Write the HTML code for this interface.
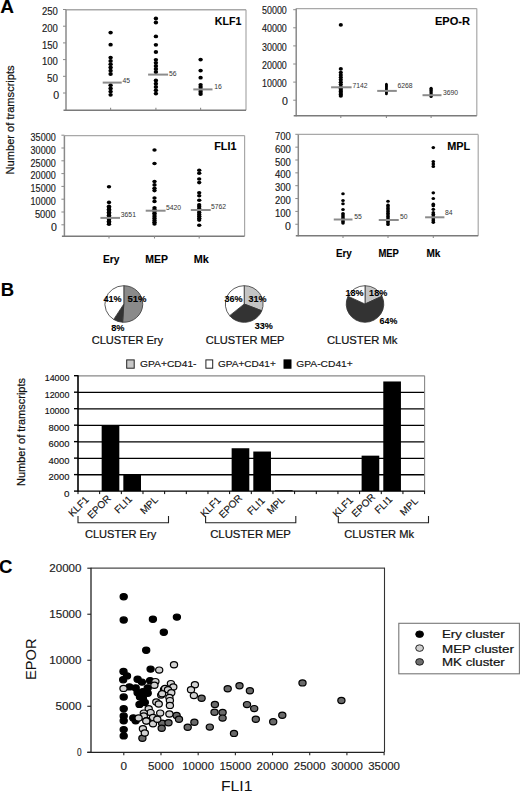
<!DOCTYPE html>
<html><head><meta charset="utf-8"><title>Figure</title>
<style>
html,body{margin:0;padding:0;background:#fff;}
svg{display:block;font-family:"Liberation Sans", sans-serif;}
text{stroke:currentColor;stroke-width:0.15px;}
text[font-weight=bold]{stroke-width:0.1px;}
text.h{stroke-width:0.22px;}
text.n{stroke-width:0;}
</style></head>
<body>
<svg width="520" height="791" viewBox="0 0 520 791">
<rect width="520" height="791" fill="#fff"/>
<text x="0.30" y="13.40" font-size="19" font-weight="bold">A</text>
<line x1="66.00" y1="9.75" x2="246.00" y2="9.75" stroke="#a8a8a8" stroke-width="1.35"/>
<line x1="246.00" y1="9.75" x2="246.00" y2="110.30" stroke="#a8a8a8" stroke-width="1.2"/>
<line x1="66.00" y1="9.75" x2="66.00" y2="110.90" stroke="#8a8a8a" stroke-width="1.5"/>
<line x1="63.50" y1="110.30" x2="246.00" y2="110.30" stroke="#7a7a7a" stroke-width="1.5"/>
<line x1="63.00" y1="9.50" x2="66.00" y2="9.50" stroke="#8a8a8a" stroke-width="1"/>
<line x1="63.00" y1="26.20" x2="66.00" y2="26.20" stroke="#8a8a8a" stroke-width="1"/>
<line x1="63.00" y1="42.90" x2="66.00" y2="42.90" stroke="#8a8a8a" stroke-width="1"/>
<line x1="63.00" y1="59.60" x2="66.00" y2="59.60" stroke="#8a8a8a" stroke-width="1"/>
<line x1="63.00" y1="76.30" x2="66.00" y2="76.30" stroke="#8a8a8a" stroke-width="1"/>
<line x1="63.00" y1="93.00" x2="66.00" y2="93.00" stroke="#8a8a8a" stroke-width="1"/>
<text x="57.90" y="15.10" font-size="10.5" text-anchor="end" textLength="15.90" lengthAdjust="spacingAndGlyphs" fill="#1a1a1a" color="#1a1a1a">250</text>
<text x="57.90" y="31.80" font-size="10.5" text-anchor="end" textLength="15.90" lengthAdjust="spacingAndGlyphs" fill="#1a1a1a" color="#1a1a1a">200</text>
<text x="57.90" y="48.50" font-size="10.5" text-anchor="end" textLength="15.90" lengthAdjust="spacingAndGlyphs" fill="#1a1a1a" color="#1a1a1a">150</text>
<text x="57.90" y="65.20" font-size="10.5" text-anchor="end" textLength="15.90" lengthAdjust="spacingAndGlyphs" fill="#1a1a1a" color="#1a1a1a">100</text>
<text x="57.90" y="81.90" font-size="10.5" text-anchor="end" textLength="10.90" lengthAdjust="spacingAndGlyphs" fill="#1a1a1a" color="#1a1a1a">50</text>
<text x="59.10" y="98.60" font-size="10.5" text-anchor="end" textLength="5.90" lengthAdjust="spacingAndGlyphs" fill="#1a1a1a" color="#1a1a1a">0</text>
<line x1="110.60" y1="107.70" x2="110.60" y2="110.30" stroke="#8a8a8a" stroke-width="1.1"/>
<line x1="155.90" y1="107.70" x2="155.90" y2="110.30" stroke="#8a8a8a" stroke-width="1.1"/>
<line x1="200.60" y1="107.70" x2="200.60" y2="110.30" stroke="#8a8a8a" stroke-width="1.1"/>
<text x="214.80" y="25.10" font-size="10.75" font-weight="bold" textLength="26.50" lengthAdjust="spacingAndGlyphs">KLF1</text>
<ellipse cx="110.60" cy="32.60" rx="2.2" ry="1.9" fill="#000"/>
<ellipse cx="110.60" cy="44.70" rx="2.2" ry="1.9" fill="#000"/>
<ellipse cx="110.60" cy="57.60" rx="2.2" ry="1.9" fill="#000"/>
<ellipse cx="110.60" cy="60.88" rx="2.2" ry="1.9" fill="#000"/>
<ellipse cx="110.60" cy="64.16" rx="2.2" ry="1.9" fill="#000"/>
<ellipse cx="110.60" cy="67.44" rx="2.2" ry="1.9" fill="#000"/>
<ellipse cx="110.60" cy="70.72" rx="2.2" ry="1.9" fill="#000"/>
<ellipse cx="110.60" cy="74.00" rx="2.2" ry="1.9" fill="#000"/>
<ellipse cx="110.60" cy="85.20" rx="2.2" ry="1.9" fill="#000"/>
<ellipse cx="110.60" cy="88.40" rx="2.2" ry="1.9" fill="#000"/>
<ellipse cx="110.60" cy="91.60" rx="2.2" ry="1.9" fill="#000"/>
<ellipse cx="110.60" cy="94.80" rx="2.2" ry="1.9" fill="#000"/>
<ellipse cx="155.90" cy="18.50" rx="2.2" ry="1.9" fill="#000"/>
<ellipse cx="155.90" cy="22.50" rx="2.2" ry="1.9" fill="#000"/>
<ellipse cx="155.90" cy="36.40" rx="2.2" ry="1.9" fill="#000"/>
<ellipse cx="155.90" cy="44.80" rx="2.2" ry="1.9" fill="#000"/>
<ellipse cx="155.90" cy="52.00" rx="2.2" ry="1.9" fill="#000"/>
<ellipse cx="155.90" cy="59.80" rx="2.2" ry="1.9" fill="#000"/>
<ellipse cx="155.90" cy="62.85" rx="2.2" ry="1.9" fill="#000"/>
<ellipse cx="155.90" cy="65.90" rx="2.2" ry="1.9" fill="#000"/>
<ellipse cx="155.90" cy="68.95" rx="2.2" ry="1.9" fill="#000"/>
<ellipse cx="155.90" cy="72.00" rx="2.2" ry="1.9" fill="#000"/>
<ellipse cx="155.90" cy="80.40" rx="2.2" ry="1.9" fill="#000"/>
<ellipse cx="155.90" cy="83.70" rx="2.2" ry="1.9" fill="#000"/>
<ellipse cx="155.90" cy="87.00" rx="2.2" ry="1.9" fill="#000"/>
<ellipse cx="155.90" cy="90.30" rx="2.2" ry="1.9" fill="#000"/>
<ellipse cx="155.90" cy="93.60" rx="2.2" ry="1.9" fill="#000"/>
<ellipse cx="200.60" cy="59.60" rx="2.2" ry="1.9" fill="#000"/>
<ellipse cx="200.60" cy="70.60" rx="2.2" ry="1.9" fill="#000"/>
<ellipse cx="200.60" cy="77.70" rx="2.2" ry="1.9" fill="#000"/>
<ellipse cx="200.60" cy="84.80" rx="2.2" ry="1.9" fill="#000"/>
<ellipse cx="200.60" cy="87.10" rx="2.2" ry="1.9" fill="#000"/>
<ellipse cx="200.60" cy="89.40" rx="2.2" ry="1.9" fill="#000"/>
<ellipse cx="200.60" cy="91.70" rx="2.2" ry="1.9" fill="#000"/>
<ellipse cx="200.60" cy="94.00" rx="2.2" ry="1.9" fill="#000"/>
<line x1="102.70" y1="82.60" x2="121.70" y2="82.60" stroke="#8c8c8c" stroke-width="2.0"/>
<line x1="148.10" y1="74.60" x2="168.10" y2="74.60" stroke="#8c8c8c" stroke-width="2.0"/>
<line x1="193.30" y1="89.40" x2="212.50" y2="89.40" stroke="#8c8c8c" stroke-width="2.0"/>
<text x="122.60" y="83.40" font-size="6.8" fill="#333" color="#333" class="n">45</text>
<text x="168.90" y="75.80" font-size="6.8" fill="#333" color="#333" class="n">56</text>
<text x="214.30" y="89.40" font-size="6.8" fill="#333" color="#333" class="n">16</text>
<line x1="296.20" y1="8.60" x2="476.80" y2="8.60" stroke="#a8a8a8" stroke-width="1.35"/>
<line x1="476.80" y1="8.60" x2="476.80" y2="115.70" stroke="#a8a8a8" stroke-width="1.2"/>
<line x1="296.20" y1="8.60" x2="296.20" y2="116.30" stroke="#8a8a8a" stroke-width="1.5"/>
<line x1="293.70" y1="115.70" x2="476.80" y2="115.70" stroke="#7a7a7a" stroke-width="1.5"/>
<line x1="293.20" y1="9.70" x2="296.20" y2="9.70" stroke="#8a8a8a" stroke-width="1"/>
<line x1="293.20" y1="27.80" x2="296.20" y2="27.80" stroke="#8a8a8a" stroke-width="1"/>
<line x1="293.20" y1="45.90" x2="296.20" y2="45.90" stroke="#8a8a8a" stroke-width="1"/>
<line x1="293.20" y1="64.00" x2="296.20" y2="64.00" stroke="#8a8a8a" stroke-width="1"/>
<line x1="293.20" y1="82.10" x2="296.20" y2="82.10" stroke="#8a8a8a" stroke-width="1"/>
<line x1="293.20" y1="100.20" x2="296.20" y2="100.20" stroke="#8a8a8a" stroke-width="1"/>
<text x="286.80" y="14.30" font-size="10.5" text-anchor="end" textLength="24.80" lengthAdjust="spacingAndGlyphs" fill="#1a1a1a" color="#1a1a1a">50000</text>
<text x="286.80" y="32.40" font-size="10.5" text-anchor="end" textLength="24.80" lengthAdjust="spacingAndGlyphs" fill="#1a1a1a" color="#1a1a1a">40000</text>
<text x="286.80" y="50.50" font-size="10.5" text-anchor="end" textLength="24.80" lengthAdjust="spacingAndGlyphs" fill="#1a1a1a" color="#1a1a1a">30000</text>
<text x="286.80" y="68.60" font-size="10.5" text-anchor="end" textLength="24.80" lengthAdjust="spacingAndGlyphs" fill="#1a1a1a" color="#1a1a1a">20000</text>
<text x="286.80" y="86.70" font-size="10.5" text-anchor="end" textLength="24.80" lengthAdjust="spacingAndGlyphs" fill="#1a1a1a" color="#1a1a1a">10000</text>
<text x="288.00" y="104.80" font-size="10.5" text-anchor="end" textLength="5.90" lengthAdjust="spacingAndGlyphs" fill="#1a1a1a" color="#1a1a1a">0</text>
<line x1="340.80" y1="115.70" x2="340.80" y2="117.90" stroke="#8a8a8a" stroke-width="1.1"/>
<line x1="386.40" y1="115.70" x2="386.40" y2="117.90" stroke="#8a8a8a" stroke-width="1.1"/>
<line x1="431.10" y1="115.70" x2="431.10" y2="117.90" stroke="#8a8a8a" stroke-width="1.1"/>
<text x="434.90" y="24.50" font-size="10.75" font-weight="bold" textLength="35.00" lengthAdjust="spacingAndGlyphs">EPO-R</text>
<ellipse cx="340.80" cy="24.90" rx="2.1" ry="1.8" fill="#000"/>
<ellipse cx="340.80" cy="68.90" rx="2.1" ry="1.8" fill="#000"/>
<ellipse cx="340.80" cy="72.60" rx="2.1" ry="1.8" fill="#000"/>
<ellipse cx="340.80" cy="75.00" rx="2.1" ry="1.8" fill="#000"/>
<ellipse cx="340.80" cy="77.40" rx="2.1" ry="1.8" fill="#000"/>
<ellipse cx="340.80" cy="79.80" rx="2.1" ry="1.8" fill="#000"/>
<ellipse cx="340.80" cy="82.20" rx="2.1" ry="1.8" fill="#000"/>
<ellipse cx="340.80" cy="84.60" rx="2.1" ry="1.8" fill="#000"/>
<ellipse cx="340.80" cy="87.00" rx="2.1" ry="1.8" fill="#000"/>
<ellipse cx="340.80" cy="88.50" rx="2.1" ry="1.8" fill="#000"/>
<ellipse cx="340.80" cy="90.00" rx="2.1" ry="1.8" fill="#000"/>
<ellipse cx="340.80" cy="91.50" rx="2.1" ry="1.8" fill="#000"/>
<ellipse cx="340.80" cy="93.00" rx="2.1" ry="1.8" fill="#000"/>
<ellipse cx="340.80" cy="94.50" rx="2.1" ry="1.8" fill="#000"/>
<ellipse cx="340.80" cy="96.00" rx="2.1" ry="1.8" fill="#000"/>
<ellipse cx="386.40" cy="84.20" rx="1.4" ry="1.5" fill="#000"/>
<ellipse cx="386.40" cy="85.40" rx="1.4" ry="1.5" fill="#000"/>
<ellipse cx="386.40" cy="86.60" rx="1.4" ry="1.5" fill="#000"/>
<ellipse cx="386.40" cy="87.80" rx="1.4" ry="1.5" fill="#000"/>
<ellipse cx="386.40" cy="89.00" rx="1.4" ry="1.5" fill="#000"/>
<ellipse cx="386.40" cy="90.20" rx="1.4" ry="1.5" fill="#000"/>
<ellipse cx="386.40" cy="91.40" rx="1.4" ry="1.5" fill="#000"/>
<ellipse cx="386.40" cy="92.60" rx="1.4" ry="1.5" fill="#000"/>
<ellipse cx="386.40" cy="93.80" rx="1.4" ry="1.5" fill="#000"/>
<ellipse cx="431.10" cy="88.20" rx="1.6" ry="1.5" fill="#000"/>
<ellipse cx="431.10" cy="89.40" rx="1.6" ry="1.5" fill="#000"/>
<ellipse cx="431.10" cy="90.60" rx="1.6" ry="1.5" fill="#000"/>
<ellipse cx="431.10" cy="91.80" rx="1.6" ry="1.5" fill="#000"/>
<ellipse cx="431.10" cy="93.00" rx="1.6" ry="1.5" fill="#000"/>
<ellipse cx="431.10" cy="94.20" rx="1.6" ry="1.5" fill="#000"/>
<ellipse cx="431.10" cy="95.40" rx="1.6" ry="1.5" fill="#000"/>
<ellipse cx="431.10" cy="96.60" rx="1.6" ry="1.5" fill="#000"/>
<line x1="331.10" y1="87.30" x2="351.60" y2="87.30" stroke="#8c8c8c" stroke-width="2.0"/>
<line x1="377.20" y1="90.90" x2="396.80" y2="90.90" stroke="#8c8c8c" stroke-width="2.0"/>
<line x1="422.50" y1="95.20" x2="441.50" y2="95.20" stroke="#8c8c8c" stroke-width="2.0"/>
<text x="352.40" y="87.70" font-size="6.8" fill="#333" color="#333" class="n">7142</text>
<text x="397.40" y="88.40" font-size="6.8" fill="#333" color="#333" class="n">6268</text>
<text x="443.00" y="95.30" font-size="6.8" fill="#333" color="#333" class="n">3690</text>
<line x1="64.40" y1="135.60" x2="244.60" y2="135.60" stroke="#a8a8a8" stroke-width="1.35"/>
<line x1="244.60" y1="135.60" x2="244.60" y2="236.30" stroke="#a8a8a8" stroke-width="1.2"/>
<line x1="64.40" y1="135.60" x2="64.40" y2="236.90" stroke="#8a8a8a" stroke-width="1.5"/>
<line x1="61.90" y1="236.30" x2="244.60" y2="236.30" stroke="#7a7a7a" stroke-width="1.5"/>
<line x1="61.40" y1="135.20" x2="64.40" y2="135.20" stroke="#8a8a8a" stroke-width="1"/>
<line x1="61.40" y1="148.00" x2="64.40" y2="148.00" stroke="#8a8a8a" stroke-width="1"/>
<line x1="61.40" y1="160.80" x2="64.40" y2="160.80" stroke="#8a8a8a" stroke-width="1"/>
<line x1="61.40" y1="173.60" x2="64.40" y2="173.60" stroke="#8a8a8a" stroke-width="1"/>
<line x1="61.40" y1="186.40" x2="64.40" y2="186.40" stroke="#8a8a8a" stroke-width="1"/>
<line x1="61.40" y1="199.20" x2="64.40" y2="199.20" stroke="#8a8a8a" stroke-width="1"/>
<line x1="61.40" y1="212.00" x2="64.40" y2="212.00" stroke="#8a8a8a" stroke-width="1"/>
<line x1="61.40" y1="224.80" x2="64.40" y2="224.80" stroke="#8a8a8a" stroke-width="1"/>
<text x="55.70" y="141.00" font-size="10.5" text-anchor="end" textLength="25.10" lengthAdjust="spacingAndGlyphs" fill="#1a1a1a" color="#1a1a1a">35000</text>
<text x="55.70" y="153.80" font-size="10.5" text-anchor="end" textLength="25.10" lengthAdjust="spacingAndGlyphs" fill="#1a1a1a" color="#1a1a1a">30000</text>
<text x="55.70" y="166.60" font-size="10.5" text-anchor="end" textLength="25.10" lengthAdjust="spacingAndGlyphs" fill="#1a1a1a" color="#1a1a1a">25000</text>
<text x="55.70" y="179.40" font-size="10.5" text-anchor="end" textLength="25.10" lengthAdjust="spacingAndGlyphs" fill="#1a1a1a" color="#1a1a1a">20000</text>
<text x="55.70" y="192.20" font-size="10.5" text-anchor="end" textLength="25.10" lengthAdjust="spacingAndGlyphs" fill="#1a1a1a" color="#1a1a1a">15000</text>
<text x="55.70" y="205.00" font-size="10.5" text-anchor="end" textLength="25.10" lengthAdjust="spacingAndGlyphs" fill="#1a1a1a" color="#1a1a1a">10000</text>
<text x="55.70" y="217.80" font-size="10.5" text-anchor="end" textLength="20.80" lengthAdjust="spacingAndGlyphs" fill="#1a1a1a" color="#1a1a1a">5000</text>
<text x="56.90" y="230.60" font-size="10.5" text-anchor="end" textLength="5.90" lengthAdjust="spacingAndGlyphs" fill="#1a1a1a" color="#1a1a1a">0</text>
<line x1="109.00" y1="236.30" x2="109.00" y2="238.50" stroke="#8a8a8a" stroke-width="1.1"/>
<line x1="154.50" y1="236.30" x2="154.50" y2="238.50" stroke="#8a8a8a" stroke-width="1.1"/>
<line x1="199.20" y1="236.30" x2="199.20" y2="238.50" stroke="#8a8a8a" stroke-width="1.1"/>
<text x="214.30" y="150.30" font-size="10.34" font-weight="bold" textLength="22.10" lengthAdjust="spacingAndGlyphs">FLI1</text>
<ellipse cx="109.00" cy="186.80" rx="2.2" ry="1.8" fill="#000"/>
<ellipse cx="109.00" cy="202.40" rx="2.2" ry="1.8" fill="#000"/>
<ellipse cx="109.00" cy="206.20" rx="2.2" ry="1.8" fill="#000"/>
<ellipse cx="109.00" cy="207.70" rx="2.2" ry="1.8" fill="#000"/>
<ellipse cx="109.00" cy="209.20" rx="2.2" ry="1.8" fill="#000"/>
<ellipse cx="109.00" cy="210.70" rx="2.2" ry="1.8" fill="#000"/>
<ellipse cx="109.00" cy="212.20" rx="2.2" ry="1.8" fill="#000"/>
<ellipse cx="109.00" cy="213.70" rx="2.2" ry="1.8" fill="#000"/>
<ellipse cx="109.00" cy="215.20" rx="2.2" ry="1.8" fill="#000"/>
<ellipse cx="109.00" cy="216.70" rx="2.2" ry="1.8" fill="#000"/>
<ellipse cx="109.00" cy="218.20" rx="2.2" ry="1.8" fill="#000"/>
<ellipse cx="109.00" cy="219.70" rx="2.2" ry="1.8" fill="#000"/>
<ellipse cx="109.00" cy="221.20" rx="2.2" ry="1.8" fill="#000"/>
<ellipse cx="109.00" cy="222.70" rx="2.2" ry="1.8" fill="#000"/>
<ellipse cx="109.00" cy="224.20" rx="2.2" ry="1.8" fill="#000"/>
<ellipse cx="154.50" cy="150.00" rx="2.2" ry="1.8" fill="#000"/>
<ellipse cx="154.50" cy="163.50" rx="2.2" ry="1.8" fill="#000"/>
<ellipse cx="154.50" cy="181.50" rx="2.2" ry="1.8" fill="#000"/>
<ellipse cx="154.50" cy="184.90" rx="2.2" ry="1.8" fill="#000"/>
<ellipse cx="154.50" cy="188.30" rx="2.2" ry="1.8" fill="#000"/>
<ellipse cx="154.50" cy="190.60" rx="2.2" ry="1.8" fill="#000"/>
<ellipse cx="154.50" cy="198.00" rx="2.2" ry="1.8" fill="#000"/>
<ellipse cx="154.50" cy="201.40" rx="2.2" ry="1.8" fill="#000"/>
<ellipse cx="154.50" cy="207.80" rx="2.2" ry="1.8" fill="#000"/>
<ellipse cx="154.50" cy="209.60" rx="2.2" ry="1.8" fill="#000"/>
<ellipse cx="154.50" cy="211.40" rx="2.2" ry="1.8" fill="#000"/>
<ellipse cx="154.50" cy="213.20" rx="2.2" ry="1.8" fill="#000"/>
<ellipse cx="154.50" cy="215.00" rx="2.2" ry="1.8" fill="#000"/>
<ellipse cx="154.50" cy="216.80" rx="2.2" ry="1.8" fill="#000"/>
<ellipse cx="154.50" cy="218.60" rx="2.2" ry="1.8" fill="#000"/>
<ellipse cx="154.50" cy="220.40" rx="2.2" ry="1.8" fill="#000"/>
<ellipse cx="154.50" cy="222.20" rx="2.2" ry="1.8" fill="#000"/>
<ellipse cx="154.50" cy="224.00" rx="2.2" ry="1.8" fill="#000"/>
<ellipse cx="199.20" cy="170.20" rx="2.2" ry="1.8" fill="#000"/>
<ellipse cx="199.20" cy="173.30" rx="2.2" ry="1.8" fill="#000"/>
<ellipse cx="199.20" cy="179.00" rx="2.2" ry="1.8" fill="#000"/>
<ellipse cx="199.20" cy="182.60" rx="2.2" ry="1.8" fill="#000"/>
<ellipse cx="199.20" cy="192.70" rx="2.2" ry="1.8" fill="#000"/>
<ellipse cx="199.20" cy="195.80" rx="2.2" ry="1.8" fill="#000"/>
<ellipse cx="199.20" cy="200.30" rx="2.2" ry="1.8" fill="#000"/>
<ellipse cx="199.20" cy="204.90" rx="2.2" ry="1.8" fill="#000"/>
<ellipse cx="199.20" cy="206.80" rx="2.2" ry="1.8" fill="#000"/>
<ellipse cx="199.20" cy="208.70" rx="2.2" ry="1.8" fill="#000"/>
<ellipse cx="199.20" cy="210.60" rx="2.2" ry="1.8" fill="#000"/>
<ellipse cx="199.20" cy="212.50" rx="2.2" ry="1.8" fill="#000"/>
<ellipse cx="199.20" cy="214.40" rx="2.2" ry="1.8" fill="#000"/>
<ellipse cx="199.20" cy="216.30" rx="2.2" ry="1.8" fill="#000"/>
<ellipse cx="199.20" cy="218.20" rx="2.2" ry="1.8" fill="#000"/>
<ellipse cx="199.20" cy="220.10" rx="2.2" ry="1.8" fill="#000"/>
<ellipse cx="199.20" cy="225.30" rx="2.2" ry="1.8" fill="#000"/>
<line x1="100.40" y1="217.90" x2="120.00" y2="217.90" stroke="#8c8c8c" stroke-width="2.0"/>
<line x1="145.70" y1="210.70" x2="165.60" y2="210.70" stroke="#8c8c8c" stroke-width="2.0"/>
<line x1="190.80" y1="210.00" x2="210.70" y2="210.00" stroke="#8c8c8c" stroke-width="2.0"/>
<text x="120.80" y="216.60" font-size="6.8" fill="#333" color="#333" class="n">3651</text>
<text x="166.00" y="209.90" font-size="6.8" fill="#333" color="#333" class="n">5420</text>
<text x="211.00" y="208.90" font-size="6.8" fill="#333" color="#333" class="n">5762</text>
<line x1="298.30" y1="134.40" x2="478.20" y2="134.40" stroke="#a8a8a8" stroke-width="1.35"/>
<line x1="478.20" y1="134.40" x2="478.20" y2="235.70" stroke="#a8a8a8" stroke-width="1.2"/>
<line x1="298.30" y1="134.40" x2="298.30" y2="236.30" stroke="#8a8a8a" stroke-width="1.5"/>
<line x1="295.80" y1="235.70" x2="478.20" y2="235.70" stroke="#7a7a7a" stroke-width="1.5"/>
<line x1="295.30" y1="134.30" x2="298.30" y2="134.30" stroke="#8a8a8a" stroke-width="1"/>
<line x1="295.30" y1="147.15" x2="298.30" y2="147.15" stroke="#8a8a8a" stroke-width="1"/>
<line x1="295.30" y1="160.00" x2="298.30" y2="160.00" stroke="#8a8a8a" stroke-width="1"/>
<line x1="295.30" y1="172.85" x2="298.30" y2="172.85" stroke="#8a8a8a" stroke-width="1"/>
<line x1="295.30" y1="185.70" x2="298.30" y2="185.70" stroke="#8a8a8a" stroke-width="1"/>
<line x1="295.30" y1="198.55" x2="298.30" y2="198.55" stroke="#8a8a8a" stroke-width="1"/>
<line x1="295.30" y1="211.40" x2="298.30" y2="211.40" stroke="#8a8a8a" stroke-width="1"/>
<line x1="295.30" y1="224.25" x2="298.30" y2="224.25" stroke="#8a8a8a" stroke-width="1"/>
<text x="290.90" y="139.90" font-size="10.5" text-anchor="end" textLength="15.90" lengthAdjust="spacingAndGlyphs" fill="#1a1a1a" color="#1a1a1a">700</text>
<text x="290.90" y="152.75" font-size="10.5" text-anchor="end" textLength="15.90" lengthAdjust="spacingAndGlyphs" fill="#1a1a1a" color="#1a1a1a">600</text>
<text x="290.90" y="165.60" font-size="10.5" text-anchor="end" textLength="15.90" lengthAdjust="spacingAndGlyphs" fill="#1a1a1a" color="#1a1a1a">500</text>
<text x="290.90" y="178.45" font-size="10.5" text-anchor="end" textLength="15.90" lengthAdjust="spacingAndGlyphs" fill="#1a1a1a" color="#1a1a1a">400</text>
<text x="290.90" y="191.30" font-size="10.5" text-anchor="end" textLength="15.90" lengthAdjust="spacingAndGlyphs" fill="#1a1a1a" color="#1a1a1a">300</text>
<text x="290.90" y="204.15" font-size="10.5" text-anchor="end" textLength="15.90" lengthAdjust="spacingAndGlyphs" fill="#1a1a1a" color="#1a1a1a">200</text>
<text x="290.90" y="217.00" font-size="10.5" text-anchor="end" textLength="15.90" lengthAdjust="spacingAndGlyphs" fill="#1a1a1a" color="#1a1a1a">100</text>
<text x="290.90" y="229.85" font-size="10.5" text-anchor="end" textLength="5.90" lengthAdjust="spacingAndGlyphs" fill="#1a1a1a" color="#1a1a1a">0</text>
<line x1="343.00" y1="235.70" x2="343.00" y2="237.90" stroke="#8a8a8a" stroke-width="1.1"/>
<line x1="388.00" y1="235.70" x2="388.00" y2="237.90" stroke="#8a8a8a" stroke-width="1.1"/>
<line x1="433.30" y1="235.70" x2="433.30" y2="237.90" stroke="#8a8a8a" stroke-width="1.1"/>
<text x="447.20" y="149.80" font-size="10.75" font-weight="bold" textLength="23.00" lengthAdjust="spacingAndGlyphs">MPL</text>
<ellipse cx="343.00" cy="193.75" rx="1.8" ry="1.6" fill="#000"/>
<ellipse cx="343.00" cy="200.50" rx="1.8" ry="1.6" fill="#000"/>
<ellipse cx="343.00" cy="203.75" rx="1.8" ry="1.6" fill="#000"/>
<ellipse cx="343.00" cy="209.50" rx="1.8" ry="1.6" fill="#000"/>
<ellipse cx="343.00" cy="213.50" rx="1.8" ry="1.6" fill="#000"/>
<ellipse cx="343.00" cy="215.10" rx="1.8" ry="1.6" fill="#000"/>
<ellipse cx="343.00" cy="216.70" rx="1.8" ry="1.6" fill="#000"/>
<ellipse cx="343.00" cy="218.30" rx="1.8" ry="1.6" fill="#000"/>
<ellipse cx="343.00" cy="219.90" rx="1.8" ry="1.6" fill="#000"/>
<ellipse cx="343.00" cy="221.50" rx="1.8" ry="1.6" fill="#000"/>
<ellipse cx="343.00" cy="223.10" rx="1.8" ry="1.6" fill="#000"/>
<ellipse cx="388.00" cy="201.25" rx="1.8" ry="1.6" fill="#000"/>
<ellipse cx="388.00" cy="205.20" rx="1.8" ry="1.6" fill="#000"/>
<ellipse cx="388.00" cy="206.80" rx="1.8" ry="1.6" fill="#000"/>
<ellipse cx="388.00" cy="208.40" rx="1.8" ry="1.6" fill="#000"/>
<ellipse cx="388.00" cy="210.00" rx="1.8" ry="1.6" fill="#000"/>
<ellipse cx="388.00" cy="211.60" rx="1.8" ry="1.6" fill="#000"/>
<ellipse cx="388.00" cy="213.20" rx="1.8" ry="1.6" fill="#000"/>
<ellipse cx="388.00" cy="214.80" rx="1.8" ry="1.6" fill="#000"/>
<ellipse cx="388.00" cy="216.40" rx="1.8" ry="1.6" fill="#000"/>
<ellipse cx="388.00" cy="218.00" rx="1.8" ry="1.6" fill="#000"/>
<ellipse cx="388.00" cy="219.60" rx="1.8" ry="1.6" fill="#000"/>
<ellipse cx="388.00" cy="221.20" rx="1.8" ry="1.6" fill="#000"/>
<ellipse cx="388.00" cy="222.80" rx="1.8" ry="1.6" fill="#000"/>
<ellipse cx="388.00" cy="224.40" rx="1.8" ry="1.6" fill="#000"/>
<ellipse cx="433.30" cy="147.60" rx="1.8" ry="1.6" fill="#000"/>
<ellipse cx="433.30" cy="161.60" rx="1.8" ry="1.6" fill="#000"/>
<ellipse cx="433.30" cy="163.90" rx="1.8" ry="1.6" fill="#000"/>
<ellipse cx="433.30" cy="166.40" rx="1.8" ry="1.6" fill="#000"/>
<ellipse cx="433.30" cy="192.80" rx="1.8" ry="1.6" fill="#000"/>
<ellipse cx="433.30" cy="198.50" rx="1.8" ry="1.6" fill="#000"/>
<ellipse cx="433.30" cy="204.20" rx="1.8" ry="1.6" fill="#000"/>
<ellipse cx="433.30" cy="205.70" rx="1.8" ry="1.6" fill="#000"/>
<ellipse cx="433.30" cy="209.30" rx="1.8" ry="1.6" fill="#000"/>
<ellipse cx="433.30" cy="212.70" rx="1.8" ry="1.6" fill="#000"/>
<ellipse cx="433.30" cy="214.30" rx="1.8" ry="1.6" fill="#000"/>
<ellipse cx="433.30" cy="215.90" rx="1.8" ry="1.6" fill="#000"/>
<ellipse cx="433.30" cy="217.50" rx="1.8" ry="1.6" fill="#000"/>
<ellipse cx="433.30" cy="219.10" rx="1.8" ry="1.6" fill="#000"/>
<ellipse cx="433.30" cy="220.70" rx="1.8" ry="1.6" fill="#000"/>
<ellipse cx="433.30" cy="222.30" rx="1.8" ry="1.6" fill="#000"/>
<line x1="333.75" y1="219.50" x2="352.50" y2="219.50" stroke="#8c8c8c" stroke-width="2.0"/>
<line x1="378.75" y1="220.00" x2="398.75" y2="220.00" stroke="#8c8c8c" stroke-width="2.0"/>
<line x1="425.10" y1="217.30" x2="444.40" y2="217.30" stroke="#8c8c8c" stroke-width="2.0"/>
<text x="354.30" y="219.15" font-size="6.8" fill="#333" color="#333" class="n">55</text>
<text x="400.00" y="219.15" font-size="6.8" fill="#333" color="#333" class="n">50</text>
<text x="445.00" y="214.90" font-size="6.8" fill="#333" color="#333" class="n">84</text>
<text x="13.80" y="119.90" font-size="11" text-anchor="middle" textLength="109.00" lengthAdjust="spacingAndGlyphs" fill="#111" color="#111" transform="rotate(-90 13.80 119.90)" class="h">Number of tramscripts</text>
<text x="102.90" y="262.70" font-size="10" font-weight="bold" textLength="16.50" lengthAdjust="spacingAndGlyphs">Ery</text>
<text x="145.20" y="262.70" font-size="10" font-weight="bold" textLength="22.70" lengthAdjust="spacingAndGlyphs">MEP</text>
<text x="193.80" y="262.70" font-size="10" font-weight="bold" textLength="15.10" lengthAdjust="spacingAndGlyphs">Mk</text>
<text x="335.90" y="257.40" font-size="10" font-weight="bold" textLength="16.00" lengthAdjust="spacingAndGlyphs">Ery</text>
<text x="378.40" y="257.40" font-size="10" font-weight="bold" textLength="20.50" lengthAdjust="spacingAndGlyphs">MEP</text>
<text x="426.40" y="257.40" font-size="10" font-weight="bold" textLength="14.00" lengthAdjust="spacingAndGlyphs">Mk</text>
<text x="0.80" y="296.00" font-size="18.5" font-weight="bold">B</text>
<path d="M123.80,304.00 L123.80,285.70 A18.9,18.3 0 1 1 122.61,322.26 Z" fill="#8a8a8a" stroke="#333" stroke-width="0.8" stroke-linejoin="round"/>
<path d="M123.80,304.00 L122.61,322.26 A18.9,18.3 0 0 1 113.67,319.45 Z" fill="#333333" stroke="#333" stroke-width="0.8" stroke-linejoin="round"/>
<path d="M123.80,304.00 L113.67,319.45 A18.9,18.3 0 0 1 123.80,285.70 Z" fill="#ffffff" stroke="#333" stroke-width="0.8" stroke-linejoin="round"/>
<path d="M244.20,304.00 L244.20,285.70 A18.9,18.3 0 0 1 261.77,310.74 Z" fill="#c4c4c4" stroke="#333" stroke-width="0.8" stroke-linejoin="round"/>
<path d="M244.20,304.00 L261.77,310.74 A18.9,18.3 0 0 1 229.64,315.66 Z" fill="#333333" stroke="#333" stroke-width="0.8" stroke-linejoin="round"/>
<path d="M244.20,304.00 L229.64,315.66 A18.9,18.3 0 0 1 244.20,285.70 Z" fill="#ffffff" stroke="#333" stroke-width="0.8" stroke-linejoin="round"/>
<path d="M365.00,304.00 L365.00,285.70 A18.8,18.3 0 0 1 382.01,296.21 Z" fill="#c4c4c4" stroke="#333" stroke-width="0.8" stroke-linejoin="round"/>
<path d="M365.00,304.00 L382.01,296.21 A18.8,18.3 0 1 1 347.99,296.21 Z" fill="#333333" stroke="#333" stroke-width="0.8" stroke-linejoin="round"/>
<path d="M365.00,304.00 L347.99,296.21 A18.8,18.3 0 0 1 365.00,285.70 Z" fill="#ffffff" stroke="#333" stroke-width="0.8" stroke-linejoin="round"/>
<text x="103.50" y="302.10" font-size="9.3" font-weight="bold" textLength="18.10" lengthAdjust="spacingAndGlyphs">41%</text>
<text x="127.50" y="302.10" font-size="9.3" font-weight="bold" textLength="19.10" lengthAdjust="spacingAndGlyphs">51%</text>
<text x="111.20" y="331.00" font-size="9.3" font-weight="bold" textLength="13.30" lengthAdjust="spacingAndGlyphs">8%</text>
<text x="224.50" y="302.00" font-size="9.3" font-weight="bold" textLength="18.10" lengthAdjust="spacingAndGlyphs">36%</text>
<text x="248.50" y="302.00" font-size="9.3" font-weight="bold" textLength="18.10" lengthAdjust="spacingAndGlyphs">31%</text>
<text x="254.70" y="328.50" font-size="9.3" font-weight="bold" textLength="18.10" lengthAdjust="spacingAndGlyphs">33%</text>
<text x="345.50" y="295.80" font-size="9.3" font-weight="bold" textLength="18.10" lengthAdjust="spacingAndGlyphs">18%</text>
<text x="369.10" y="295.80" font-size="9.3" font-weight="bold" textLength="18.20" lengthAdjust="spacingAndGlyphs">18%</text>
<text x="379.50" y="323.70" font-size="9.3" font-weight="bold" textLength="17.80" lengthAdjust="spacingAndGlyphs">64%</text>
<text x="91.70" y="343.50" font-size="11.3" textLength="71.40" lengthAdjust="spacingAndGlyphs" fill="#111" color="#111" class="h">CLUSTER Ery</text>
<text x="205.70" y="343.50" font-size="11.3" textLength="78.80" lengthAdjust="spacingAndGlyphs" fill="#111" color="#111" class="h">CLUSTER MEP</text>
<text x="326.90" y="343.50" font-size="11.3" textLength="70.50" lengthAdjust="spacingAndGlyphs" fill="#111" color="#111" class="h">CLUSTER Mk</text>
<rect x="126.70" y="359.90" width="7.50" height="8.30" fill="#c8c8c8" stroke="#222" stroke-width="1"/>
<rect x="205.90" y="359.90" width="6.80" height="8.30" fill="#fff" stroke="#222" stroke-width="1"/>
<rect x="284.00" y="359.90" width="7.00" height="8.30" fill="#000" stroke="#000" stroke-width="1"/>
<text x="140.10" y="367.10" font-size="9.8" textLength="56.40" lengthAdjust="spacingAndGlyphs" fill="#111" color="#111">GPA+CD41-</text>
<text x="218.05" y="367.10" font-size="9.8" textLength="57.75" lengthAdjust="spacingAndGlyphs" fill="#111" color="#111">GPA+CD41+</text>
<text x="296.30" y="367.10" font-size="9.8" textLength="56.50" lengthAdjust="spacingAndGlyphs" fill="#111" color="#111">GPA-CD41+</text>
<line x1="78.00" y1="474.76" x2="424.60" y2="474.76" stroke="#000" stroke-width="1.3"/>
<line x1="78.00" y1="458.28" x2="424.60" y2="458.28" stroke="#000" stroke-width="1.3"/>
<line x1="78.00" y1="441.79" x2="424.60" y2="441.79" stroke="#000" stroke-width="1.3"/>
<line x1="78.00" y1="425.31" x2="424.60" y2="425.31" stroke="#000" stroke-width="1.3"/>
<line x1="78.00" y1="408.82" x2="424.60" y2="408.82" stroke="#000" stroke-width="1.3"/>
<line x1="78.00" y1="392.34" x2="424.60" y2="392.34" stroke="#000" stroke-width="1.3"/>
<line x1="78.00" y1="375.85" x2="424.60" y2="375.85" stroke="#888" stroke-width="1.1"/>
<line x1="424.60" y1="375.70" x2="424.60" y2="491.10" stroke="#888" stroke-width="1.1"/>
<line x1="78.00" y1="375.20" x2="78.00" y2="491.60" stroke="#000" stroke-width="1.6"/>
<line x1="74.00" y1="491.10" x2="78.00" y2="491.10" stroke="#000" stroke-width="1.4"/>
<text x="69.40" y="496.60" font-size="9.6" text-anchor="end" textLength="5.50" lengthAdjust="spacingAndGlyphs" fill="#111" color="#111">0</text>
<line x1="74.00" y1="474.61" x2="78.00" y2="474.61" stroke="#000" stroke-width="1.4"/>
<text x="69.40" y="480.11" font-size="9.6" text-anchor="end" textLength="20.90" lengthAdjust="spacingAndGlyphs" fill="#111" color="#111">2000</text>
<line x1="74.00" y1="458.13" x2="78.00" y2="458.13" stroke="#000" stroke-width="1.4"/>
<text x="69.40" y="463.63" font-size="9.6" text-anchor="end" textLength="20.90" lengthAdjust="spacingAndGlyphs" fill="#111" color="#111">4000</text>
<line x1="74.00" y1="441.64" x2="78.00" y2="441.64" stroke="#000" stroke-width="1.4"/>
<text x="69.40" y="447.14" font-size="9.6" text-anchor="end" textLength="20.90" lengthAdjust="spacingAndGlyphs" fill="#111" color="#111">6000</text>
<line x1="74.00" y1="425.16" x2="78.00" y2="425.16" stroke="#000" stroke-width="1.4"/>
<text x="69.40" y="430.66" font-size="9.6" text-anchor="end" textLength="20.90" lengthAdjust="spacingAndGlyphs" fill="#111" color="#111">8000</text>
<line x1="74.00" y1="408.67" x2="78.00" y2="408.67" stroke="#000" stroke-width="1.4"/>
<text x="69.40" y="414.17" font-size="9.6" text-anchor="end" textLength="24.70" lengthAdjust="spacingAndGlyphs" fill="#111" color="#111">10000</text>
<line x1="74.00" y1="392.19" x2="78.00" y2="392.19" stroke="#000" stroke-width="1.4"/>
<text x="69.40" y="397.69" font-size="9.6" text-anchor="end" textLength="24.70" lengthAdjust="spacingAndGlyphs" fill="#111" color="#111">12000</text>
<line x1="74.00" y1="375.70" x2="78.00" y2="375.70" stroke="#000" stroke-width="1.4"/>
<text x="69.40" y="381.20" font-size="9.6" text-anchor="end" textLength="24.70" lengthAdjust="spacingAndGlyphs" fill="#111" color="#111">14000</text>
<line x1="78.00" y1="491.10" x2="424.60" y2="491.10" stroke="#000" stroke-width="1.4"/>
<line x1="78.00" y1="491.10" x2="78.00" y2="494.10" stroke="#000" stroke-width="1"/>
<line x1="99.66" y1="491.10" x2="99.66" y2="494.10" stroke="#000" stroke-width="1"/>
<line x1="121.33" y1="491.10" x2="121.33" y2="494.10" stroke="#000" stroke-width="1"/>
<line x1="142.99" y1="491.10" x2="142.99" y2="494.10" stroke="#000" stroke-width="1"/>
<line x1="164.65" y1="491.10" x2="164.65" y2="494.10" stroke="#000" stroke-width="1"/>
<line x1="186.31" y1="491.10" x2="186.31" y2="494.10" stroke="#000" stroke-width="1"/>
<line x1="207.98" y1="491.10" x2="207.98" y2="494.10" stroke="#000" stroke-width="1"/>
<line x1="229.64" y1="491.10" x2="229.64" y2="494.10" stroke="#000" stroke-width="1"/>
<line x1="251.30" y1="491.10" x2="251.30" y2="494.10" stroke="#000" stroke-width="1"/>
<line x1="272.96" y1="491.10" x2="272.96" y2="494.10" stroke="#000" stroke-width="1"/>
<line x1="294.62" y1="491.10" x2="294.62" y2="494.10" stroke="#000" stroke-width="1"/>
<line x1="316.29" y1="491.10" x2="316.29" y2="494.10" stroke="#000" stroke-width="1"/>
<line x1="337.95" y1="491.10" x2="337.95" y2="494.10" stroke="#000" stroke-width="1"/>
<line x1="359.61" y1="491.10" x2="359.61" y2="494.10" stroke="#000" stroke-width="1"/>
<line x1="381.28" y1="491.10" x2="381.28" y2="494.10" stroke="#000" stroke-width="1"/>
<line x1="402.94" y1="491.10" x2="402.94" y2="494.10" stroke="#000" stroke-width="1"/>
<line x1="424.60" y1="491.10" x2="424.60" y2="494.10" stroke="#000" stroke-width="1"/>
<rect x="101.66" y="425.16" width="17.66" height="65.94" fill="#000"/>
<rect x="123.33" y="474.61" width="17.66" height="16.49" fill="#000"/>
<rect x="231.64" y="448.24" width="17.66" height="42.86" fill="#000"/>
<rect x="253.30" y="451.53" width="17.66" height="39.57" fill="#000"/>
<rect x="274.96" y="490.19" width="17.66" height="0.91" fill="#000"/>
<rect x="361.61" y="455.66" width="17.66" height="35.44" fill="#000"/>
<rect x="383.28" y="381.47" width="17.66" height="109.63" fill="#000"/>
<text x="89.43" y="500.30" font-size="10" text-anchor="end" fill="#111" color="#111" transform="rotate(-45 89.43 500.30)">KLF1</text>
<text x="111.59" y="499.10" font-size="10" text-anchor="end" fill="#111" color="#111" transform="rotate(-45 111.59 499.10)">EPOR</text>
<text x="132.76" y="499.80" font-size="10" text-anchor="end" fill="#111" color="#111" transform="rotate(-45 132.76 499.80)">FLI1</text>
<text x="158.72" y="500.30" font-size="10" text-anchor="end" fill="#111" color="#111" transform="rotate(-45 158.72 500.30)">MPL</text>
<text x="221.41" y="500.80" font-size="10" text-anchor="end" fill="#111" color="#111" transform="rotate(-45 221.41 500.80)">KLF1</text>
<text x="242.97" y="498.60" font-size="10" text-anchor="end" fill="#111" color="#111" transform="rotate(-45 242.97 498.60)">EPOR</text>
<text x="265.33" y="501.40" font-size="10" text-anchor="end" fill="#111" color="#111" transform="rotate(-45 265.33 501.40)">FLI1</text>
<text x="285.49" y="500.30" font-size="10" text-anchor="end" fill="#111" color="#111" transform="rotate(-45 285.49 500.30)">MPL</text>
<text x="353.73" y="500.80" font-size="10" text-anchor="end" fill="#111" color="#111" transform="rotate(-45 353.73 500.80)">KLF1</text>
<text x="375.84" y="497.60" font-size="10" text-anchor="end" fill="#111" color="#111" transform="rotate(-45 375.84 497.60)">EPOR</text>
<text x="393.01" y="500.10" font-size="10" text-anchor="end" fill="#111" color="#111" transform="rotate(-45 393.01 500.10)">FLI1</text>
<text x="418.67" y="501.60" font-size="10" text-anchor="end" fill="#111" color="#111" transform="rotate(-45 418.67 501.60)">MPL</text>
<polyline points="78.0,516 78.0,522.7 168.5,522.7 168.5,516" fill="none" stroke="#222" stroke-width="1.1"/>
<polyline points="205.6,516 205.6,522.7 295.8,522.7 295.8,516" fill="none" stroke="#222" stroke-width="1.1"/>
<polyline points="338.3,516 338.3,522.7 428.5,522.7 428.5,516" fill="none" stroke="#222" stroke-width="1.1"/>
<text x="85.00" y="537.60" font-size="11.6" textLength="71.20" lengthAdjust="spacingAndGlyphs" fill="#111" color="#111" class="h">CLUSTER Ery</text>
<text x="210.20" y="537.60" font-size="11.6" textLength="80.60" lengthAdjust="spacingAndGlyphs" fill="#111" color="#111" class="h">CLUSTER MEP</text>
<text x="344.20" y="537.60" font-size="11.6" textLength="69.90" lengthAdjust="spacingAndGlyphs" fill="#111" color="#111" class="h">CLUSTER Mk</text>
<text x="24.50" y="432.00" font-size="11" text-anchor="middle" textLength="108.00" lengthAdjust="spacingAndGlyphs" fill="#111" color="#111" transform="rotate(-90 24.50 432.00)" class="h">Number of tramscripts</text>
<text x="-1.00" y="572.50" font-size="18.5" font-weight="bold">C</text>
<line x1="91.00" y1="568.20" x2="384.60" y2="568.20" stroke="#4a4a4a" stroke-width="1.2"/>
<line x1="384.50" y1="567.70" x2="384.50" y2="752.30" stroke="#333" stroke-width="1.1"/>
<line x1="91.00" y1="567.70" x2="91.00" y2="752.80" stroke="#222" stroke-width="1.3"/>
<line x1="87.30" y1="752.30" x2="384.10" y2="752.30" stroke="#222" stroke-width="1.3"/>
<line x1="87.30" y1="752.30" x2="91.00" y2="752.30" stroke="#222" stroke-width="1.1"/>
<text x="76.90" y="755.90" font-size="10" textLength="4.60" lengthAdjust="spacingAndGlyphs" fill="#222" color="#222">0</text>
<line x1="87.30" y1="706.27" x2="91.00" y2="706.27" stroke="#222" stroke-width="1.1"/>
<text x="55.50" y="709.88" font-size="10" textLength="26.00" lengthAdjust="spacingAndGlyphs" fill="#222" color="#222">5000</text>
<line x1="87.30" y1="660.25" x2="91.00" y2="660.25" stroke="#222" stroke-width="1.1"/>
<text x="49.30" y="663.85" font-size="10" textLength="32.20" lengthAdjust="spacingAndGlyphs" fill="#222" color="#222">10000</text>
<line x1="87.30" y1="614.23" x2="91.00" y2="614.23" stroke="#222" stroke-width="1.1"/>
<text x="49.30" y="617.83" font-size="10" textLength="32.20" lengthAdjust="spacingAndGlyphs" fill="#222" color="#222">15000</text>
<line x1="87.30" y1="568.20" x2="91.00" y2="568.20" stroke="#222" stroke-width="1.1"/>
<text x="49.30" y="571.80" font-size="10" textLength="32.20" lengthAdjust="spacingAndGlyphs" fill="#222" color="#222">20000</text>
<line x1="123.80" y1="752.30" x2="123.80" y2="755.30" stroke="#222" stroke-width="1.1"/>
<text x="120.55" y="769.60" font-size="10" textLength="6.50" lengthAdjust="spacingAndGlyphs" fill="#222" color="#222">0</text>
<line x1="160.99" y1="752.30" x2="160.99" y2="755.30" stroke="#222" stroke-width="1.1"/>
<text x="148.14" y="769.60" font-size="10" textLength="25.70" lengthAdjust="spacingAndGlyphs" fill="#222" color="#222">5000</text>
<line x1="198.17" y1="752.30" x2="198.17" y2="755.30" stroke="#222" stroke-width="1.1"/>
<text x="182.27" y="769.60" font-size="10" textLength="31.80" lengthAdjust="spacingAndGlyphs" fill="#222" color="#222">10000</text>
<line x1="235.36" y1="752.30" x2="235.36" y2="755.30" stroke="#222" stroke-width="1.1"/>
<text x="219.46" y="769.60" font-size="10" textLength="31.80" lengthAdjust="spacingAndGlyphs" fill="#222" color="#222">15000</text>
<line x1="272.54" y1="752.30" x2="272.54" y2="755.30" stroke="#222" stroke-width="1.1"/>
<text x="256.64" y="769.60" font-size="10" textLength="31.80" lengthAdjust="spacingAndGlyphs" fill="#222" color="#222">20000</text>
<line x1="309.73" y1="752.30" x2="309.73" y2="755.30" stroke="#222" stroke-width="1.1"/>
<text x="293.83" y="769.60" font-size="10" textLength="31.80" lengthAdjust="spacingAndGlyphs" fill="#222" color="#222">25000</text>
<line x1="346.91" y1="752.30" x2="346.91" y2="755.30" stroke="#222" stroke-width="1.1"/>
<text x="331.01" y="769.60" font-size="10" textLength="31.80" lengthAdjust="spacingAndGlyphs" fill="#222" color="#222">30000</text>
<line x1="384.10" y1="752.30" x2="384.10" y2="755.30" stroke="#222" stroke-width="1.1"/>
<text x="368.20" y="769.60" font-size="10" textLength="31.80" lengthAdjust="spacingAndGlyphs" fill="#222" color="#222">35000</text>
<text x="36.50" y="659.20" font-size="14.8" text-anchor="middle" textLength="41.50" lengthAdjust="spacingAndGlyphs" fill="#111" color="#111" transform="rotate(-90 36.50 659.20)" class="n">EPOR</text>
<text x="221.00" y="791.20" font-size="14.8" textLength="31.50" lengthAdjust="spacingAndGlyphs" fill="#111" color="#111" class="n">FLI1</text>
<rect x="398.80" y="623.30" width="120.60" height="50.50" fill="#fff" stroke="#777" stroke-width="1.1"/>
<ellipse cx="419.60" cy="634.20" rx="3.9" ry="3.3" fill="#000" stroke="#000" stroke-width="0.9"/>
<ellipse cx="419.60" cy="648.10" rx="3.9" ry="3.3" fill="#cfcfcf" stroke="#111" stroke-width="0.9"/>
<ellipse cx="419.60" cy="661.90" rx="3.9" ry="3.3" fill="#6e6e6e" stroke="#111" stroke-width="0.9"/>
<text x="442.00" y="638.40" font-size="10.8" textLength="62.60" lengthAdjust="spacingAndGlyphs" fill="#111" color="#111" class="h">Ery cluster</text>
<text x="442.00" y="652.50" font-size="10.8" textLength="71.90" lengthAdjust="spacingAndGlyphs" fill="#111" color="#111" class="h">MEP cluster</text>
<text x="442.00" y="666.00" font-size="10.8" textLength="62.80" lengthAdjust="spacingAndGlyphs" fill="#111" color="#111" class="h">MK cluster</text>
<ellipse cx="123.70" cy="596.70" rx="3.6" ry="3.1" fill="#000" stroke="#000" stroke-width="1.2"/>
<ellipse cx="123.70" cy="620.00" rx="3.6" ry="3.1" fill="#000" stroke="#000" stroke-width="1.2"/>
<ellipse cx="152.90" cy="619.20" rx="3.6" ry="3.1" fill="#000" stroke="#000" stroke-width="1.2"/>
<ellipse cx="176.90" cy="617.10" rx="3.6" ry="3.1" fill="#000" stroke="#000" stroke-width="1.2"/>
<ellipse cx="163.80" cy="632.30" rx="3.6" ry="3.1" fill="#000" stroke="#000" stroke-width="1.2"/>
<ellipse cx="146.20" cy="650.20" rx="3.6" ry="3.1" fill="#000" stroke="#000" stroke-width="1.2"/>
<ellipse cx="150.60" cy="669.10" rx="3.6" ry="3.1" fill="#000" stroke="#000" stroke-width="1.2"/>
<ellipse cx="123.50" cy="671.50" rx="3.6" ry="3.1" fill="#000" stroke="#000" stroke-width="1.2"/>
<ellipse cx="127.00" cy="675.90" rx="3.6" ry="3.1" fill="#000" stroke="#000" stroke-width="1.2"/>
<ellipse cx="123.20" cy="679.70" rx="3.6" ry="3.1" fill="#000" stroke="#000" stroke-width="1.2"/>
<ellipse cx="137.60" cy="679.20" rx="3.6" ry="3.1" fill="#000" stroke="#000" stroke-width="1.2"/>
<ellipse cx="141.90" cy="682.10" rx="3.6" ry="3.1" fill="#000" stroke="#000" stroke-width="1.2"/>
<ellipse cx="150.10" cy="680.70" rx="3.6" ry="3.1" fill="#000" stroke="#000" stroke-width="1.2"/>
<ellipse cx="129.40" cy="686.90" rx="3.6" ry="3.1" fill="#000" stroke="#000" stroke-width="1.2"/>
<ellipse cx="135.70" cy="687.90" rx="3.6" ry="3.1" fill="#000" stroke="#000" stroke-width="1.2"/>
<ellipse cx="147.70" cy="687.90" rx="3.6" ry="3.1" fill="#000" stroke="#000" stroke-width="1.2"/>
<ellipse cx="137.60" cy="692.70" rx="3.6" ry="3.1" fill="#000" stroke="#000" stroke-width="1.2"/>
<ellipse cx="142.90" cy="691.70" rx="3.6" ry="3.1" fill="#000" stroke="#000" stroke-width="1.2"/>
<ellipse cx="147.70" cy="693.20" rx="3.6" ry="3.1" fill="#000" stroke="#000" stroke-width="1.2"/>
<ellipse cx="123.70" cy="697.00" rx="3.6" ry="3.1" fill="#000" stroke="#000" stroke-width="1.2"/>
<ellipse cx="140.00" cy="697.00" rx="3.6" ry="3.1" fill="#000" stroke="#000" stroke-width="1.2"/>
<ellipse cx="142.90" cy="698.20" rx="3.6" ry="3.1" fill="#000" stroke="#000" stroke-width="1.2"/>
<ellipse cx="139.50" cy="704.40" rx="3.6" ry="3.1" fill="#000" stroke="#000" stroke-width="1.2"/>
<ellipse cx="144.80" cy="702.50" rx="3.6" ry="3.1" fill="#000" stroke="#000" stroke-width="1.2"/>
<ellipse cx="123.70" cy="708.80" rx="3.6" ry="3.1" fill="#000" stroke="#000" stroke-width="1.2"/>
<ellipse cx="123.70" cy="716.00" rx="3.6" ry="3.1" fill="#000" stroke="#000" stroke-width="1.2"/>
<ellipse cx="123.70" cy="720.80" rx="3.6" ry="3.1" fill="#000" stroke="#000" stroke-width="1.2"/>
<ellipse cx="123.70" cy="729.60" rx="3.6" ry="3.1" fill="#000" stroke="#000" stroke-width="1.2"/>
<ellipse cx="123.70" cy="735.90" rx="3.6" ry="3.1" fill="#000" stroke="#000" stroke-width="1.2"/>
<ellipse cx="133.30" cy="717.90" rx="3.6" ry="3.1" fill="#000" stroke="#000" stroke-width="1.2"/>
<ellipse cx="135.70" cy="720.80" rx="3.6" ry="3.1" fill="#000" stroke="#000" stroke-width="1.2"/>
<ellipse cx="162.10" cy="723.20" rx="3.6" ry="3.1" fill="#6a6a6a" stroke="#000" stroke-width="1.2"/>
<ellipse cx="168.50" cy="722.70" rx="3.6" ry="3.1" fill="#6a6a6a" stroke="#000" stroke-width="1.2"/>
<ellipse cx="161.70" cy="728.30" rx="3.6" ry="3.1" fill="#6a6a6a" stroke="#000" stroke-width="1.2"/>
<ellipse cx="142.40" cy="738.30" rx="3.6" ry="3.1" fill="#6a6a6a" stroke="#000" stroke-width="1.2"/>
<ellipse cx="176.60" cy="715.50" rx="3.6" ry="3.1" fill="#6a6a6a" stroke="#000" stroke-width="1.2"/>
<ellipse cx="179.00" cy="719.30" rx="3.6" ry="3.1" fill="#6a6a6a" stroke="#000" stroke-width="1.2"/>
<ellipse cx="201.60" cy="698.20" rx="3.6" ry="3.1" fill="#6a6a6a" stroke="#000" stroke-width="1.2"/>
<ellipse cx="194.40" cy="722.20" rx="3.6" ry="3.1" fill="#6a6a6a" stroke="#000" stroke-width="1.2"/>
<ellipse cx="187.70" cy="727.20" rx="3.6" ry="3.1" fill="#6a6a6a" stroke="#000" stroke-width="1.2"/>
<ellipse cx="209.80" cy="727.10" rx="3.6" ry="3.1" fill="#6a6a6a" stroke="#000" stroke-width="1.2"/>
<ellipse cx="227.70" cy="688.80" rx="3.6" ry="3.1" fill="#6a6a6a" stroke="#000" stroke-width="1.2"/>
<ellipse cx="239.50" cy="685.70" rx="3.6" ry="3.1" fill="#6a6a6a" stroke="#000" stroke-width="1.2"/>
<ellipse cx="249.90" cy="690.80" rx="3.6" ry="3.1" fill="#6a6a6a" stroke="#000" stroke-width="1.2"/>
<ellipse cx="214.90" cy="704.40" rx="3.6" ry="3.1" fill="#6a6a6a" stroke="#000" stroke-width="1.2"/>
<ellipse cx="247.00" cy="704.60" rx="3.6" ry="3.1" fill="#6a6a6a" stroke="#000" stroke-width="1.2"/>
<ellipse cx="254.20" cy="708.60" rx="3.6" ry="3.1" fill="#6a6a6a" stroke="#000" stroke-width="1.2"/>
<ellipse cx="214.50" cy="712.20" rx="3.6" ry="3.1" fill="#6a6a6a" stroke="#000" stroke-width="1.2"/>
<ellipse cx="222.60" cy="712.50" rx="3.6" ry="3.1" fill="#6a6a6a" stroke="#000" stroke-width="1.2"/>
<ellipse cx="222.60" cy="718.10" rx="3.6" ry="3.1" fill="#6a6a6a" stroke="#000" stroke-width="1.2"/>
<ellipse cx="234.00" cy="733.40" rx="3.6" ry="3.1" fill="#6a6a6a" stroke="#000" stroke-width="1.2"/>
<ellipse cx="255.80" cy="719.20" rx="3.6" ry="3.1" fill="#6a6a6a" stroke="#000" stroke-width="1.2"/>
<ellipse cx="302.50" cy="682.90" rx="3.6" ry="3.1" fill="#6a6a6a" stroke="#000" stroke-width="1.2"/>
<ellipse cx="341.40" cy="700.50" rx="3.6" ry="3.1" fill="#6a6a6a" stroke="#000" stroke-width="1.2"/>
<ellipse cx="282.30" cy="715.20" rx="3.6" ry="3.1" fill="#6a6a6a" stroke="#000" stroke-width="1.2"/>
<ellipse cx="273.20" cy="721.70" rx="3.6" ry="3.1" fill="#6a6a6a" stroke="#000" stroke-width="1.2"/>
<ellipse cx="159.20" cy="670.10" rx="3.6" ry="3.1" fill="#d2d2d2" stroke="#000" stroke-width="1.2"/>
<ellipse cx="174.00" cy="664.80" rx="3.6" ry="3.1" fill="#d2d2d2" stroke="#000" stroke-width="1.2"/>
<ellipse cx="155.40" cy="681.60" rx="3.6" ry="3.1" fill="#d2d2d2" stroke="#000" stroke-width="1.2"/>
<ellipse cx="154.40" cy="685.20" rx="3.6" ry="3.1" fill="#d2d2d2" stroke="#000" stroke-width="1.2"/>
<ellipse cx="123.50" cy="688.40" rx="3.6" ry="3.1" fill="#d2d2d2" stroke="#000" stroke-width="1.2"/>
<ellipse cx="164.00" cy="689.80" rx="3.6" ry="3.1" fill="#d2d2d2" stroke="#000" stroke-width="1.2"/>
<ellipse cx="161.20" cy="695.10" rx="3.6" ry="3.1" fill="#d2d2d2" stroke="#000" stroke-width="1.2"/>
<ellipse cx="170.90" cy="683.60" rx="3.6" ry="3.1" fill="#d2d2d2" stroke="#000" stroke-width="1.2"/>
<ellipse cx="173.30" cy="686.90" rx="3.6" ry="3.1" fill="#d2d2d2" stroke="#000" stroke-width="1.2"/>
<ellipse cx="165.10" cy="688.40" rx="3.6" ry="3.1" fill="#d2d2d2" stroke="#000" stroke-width="1.2"/>
<ellipse cx="168.00" cy="689.80" rx="3.6" ry="3.1" fill="#d2d2d2" stroke="#000" stroke-width="1.2"/>
<ellipse cx="171.30" cy="692.70" rx="3.6" ry="3.1" fill="#d2d2d2" stroke="#000" stroke-width="1.2"/>
<ellipse cx="169.40" cy="697.50" rx="3.6" ry="3.1" fill="#d2d2d2" stroke="#000" stroke-width="1.2"/>
<ellipse cx="169.90" cy="700.60" rx="3.6" ry="3.1" fill="#d2d2d2" stroke="#000" stroke-width="1.2"/>
<ellipse cx="194.90" cy="684.80" rx="3.6" ry="3.1" fill="#d2d2d2" stroke="#000" stroke-width="1.2"/>
<ellipse cx="191.00" cy="689.80" rx="3.6" ry="3.1" fill="#d2d2d2" stroke="#000" stroke-width="1.2"/>
<ellipse cx="193.90" cy="695.60" rx="3.6" ry="3.1" fill="#d2d2d2" stroke="#000" stroke-width="1.2"/>
<ellipse cx="156.30" cy="702.00" rx="3.6" ry="3.1" fill="#d2d2d2" stroke="#000" stroke-width="1.2"/>
<ellipse cx="158.75" cy="704.00" rx="3.6" ry="3.1" fill="#d2d2d2" stroke="#000" stroke-width="1.2"/>
<ellipse cx="169.90" cy="705.40" rx="3.6" ry="3.1" fill="#d2d2d2" stroke="#000" stroke-width="1.2"/>
<ellipse cx="162.10" cy="693.80" rx="3.6" ry="3.1" fill="#d2d2d2" stroke="#000" stroke-width="1.2"/>
<ellipse cx="148.70" cy="708.80" rx="3.6" ry="3.1" fill="#d2d2d2" stroke="#000" stroke-width="1.2"/>
<ellipse cx="150.60" cy="712.60" rx="3.6" ry="3.1" fill="#d2d2d2" stroke="#000" stroke-width="1.2"/>
<ellipse cx="143.80" cy="713.10" rx="3.6" ry="3.1" fill="#d2d2d2" stroke="#000" stroke-width="1.2"/>
<ellipse cx="143.80" cy="716.00" rx="3.6" ry="3.1" fill="#d2d2d2" stroke="#000" stroke-width="1.2"/>
<ellipse cx="138.60" cy="717.90" rx="3.6" ry="3.1" fill="#d2d2d2" stroke="#000" stroke-width="1.2"/>
<ellipse cx="153.00" cy="717.40" rx="3.6" ry="3.1" fill="#d2d2d2" stroke="#000" stroke-width="1.2"/>
<ellipse cx="146.70" cy="720.80" rx="3.6" ry="3.1" fill="#d2d2d2" stroke="#000" stroke-width="1.2"/>
<ellipse cx="153.00" cy="723.70" rx="3.6" ry="3.1" fill="#d2d2d2" stroke="#000" stroke-width="1.2"/>
<ellipse cx="157.30" cy="719.30" rx="3.6" ry="3.1" fill="#d2d2d2" stroke="#000" stroke-width="1.2"/>
<ellipse cx="160.20" cy="713.10" rx="3.6" ry="3.1" fill="#d2d2d2" stroke="#000" stroke-width="1.2"/>
<ellipse cx="169.40" cy="714.00" rx="3.6" ry="3.1" fill="#d2d2d2" stroke="#000" stroke-width="1.2"/>
<ellipse cx="142.90" cy="728.70" rx="3.6" ry="3.1" fill="#d2d2d2" stroke="#000" stroke-width="1.2"/>
<ellipse cx="144.80" cy="733.00" rx="3.6" ry="3.1" fill="#d2d2d2" stroke="#000" stroke-width="1.2"/>
<ellipse cx="146.25" cy="721.00" rx="3.6" ry="3.1" fill="#d2d2d2" stroke="#000" stroke-width="1.2"/>
</svg>
</body></html>
